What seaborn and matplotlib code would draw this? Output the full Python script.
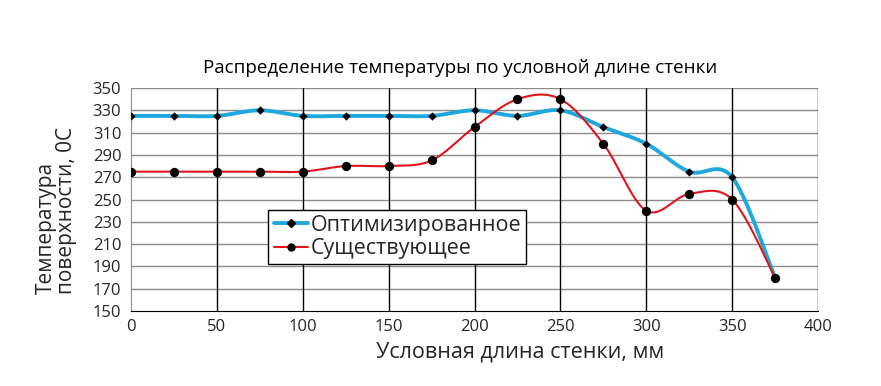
import numpy as np
import pandas as pd
import matplotlib
matplotlib.use("Agg")
import matplotlib.pyplot as plt
import seaborn as sns
from matplotlib.lines import Line2D

# data
length_mm = [0, 25, 50, 75, 100, 125, 150, 175, 200, 225, 250, 275, 300, 325, 350, 375]
optimized = [325, 325, 325, 330, 325, 325, 325, 325, 330, 325, 330, 315, 300, 275, 270, 180]
existing = [275, 275, 275, 275, 275, 280, 280, 285, 315, 340, 340, 300, 240, 255, 250, 180]

x_ticks = [0, 50, 100, 150, 200, 250, 300, 350, 400]
y_ticks = [150, 170, 190, 210, 230, 250, 270, 290, 310, 330, 350]


def smooth(x, y, n=30):
    # Excel-like smoothed line: Bezier through points, Catmull-Rom tangents
    x = np.asarray(x, float)
    y = np.asarray(y, float)
    px, py = [], []
    for i in range(len(x) - 1):
        i0 = max(i - 1, 0)
        i3 = min(i + 2, len(x) - 1)
        c1x = x[i] + (x[i + 1] - x[i0]) / 6
        c1y = y[i] + (y[i + 1] - y[i0]) / 6
        c2x = x[i + 1] - (x[i3] - x[i]) / 6
        c2y = y[i + 1] - (y[i3] - y[i]) / 6
        t = np.linspace(0, 1, n, endpoint=(i == len(x) - 2))
        b0, b1, b2, b3 = (1 - t) ** 3, 3 * t * (1 - t) ** 2, 3 * t ** 2 * (1 - t), t ** 3
        px.extend(b0 * x[i] + b1 * c1x + b2 * c2x + b3 * x[i + 1])
        py.extend(b0 * y[i] + b1 * c1y + b2 * c2y + b3 * y[i + 1])
    return np.array(px), np.array(py)


sns.set_style("white")
plt.rcParams['font.family'] = ['Open Sans', 'DejaVu Sans']

fig = plt.figure(figsize=(8.81, 3.86), dpi=100)
ax = fig.add_axes([0.1487, 0.1943, 0.7798, 0.5777])

blue = "#1ea8de"
red = "#e0141c"

sx, sy = smooth(length_mm, optimized)
sns.lineplot(x=sx, y=sy, ax=ax, color=blue, linewidth=2.8, sort=False, zorder=3)
sx, sy = smooth(length_mm, existing)
sns.lineplot(x=sx, y=sy, ax=ax, color=red, linewidth=1.5, sort=False, zorder=3)

sns.scatterplot(x=length_mm, y=optimized, ax=ax, marker="D", s=18, color="black",
                edgecolor="black", linewidth=0, zorder=4)
sns.scatterplot(x=length_mm, y=existing, ax=ax, marker="o", s=45, color="black",
                edgecolor="black", linewidth=0, zorder=4)

ax.set_xlim(0, 400)
ax.set_ylim(150, 350)
ax.set_xticks(x_ticks)
ax.set_yticks(y_ticks)
ax.tick_params(axis="both", labelsize=12, length=4, width=1, color="black", direction="out", pad=2)
ax.tick_params(axis="y", length=5)

for v in y_ticks[1:]:
    ax.axhline(v, color="#8c8c8c", linewidth=1, zorder=1)
for v in x_ticks[1:]:
    ax.axvline(v, color="black", linewidth=1, zorder=1)

for s in ["top", "right"]:
    ax.spines[s].set_visible(False)
ax.spines["left"].set_color("#8c8c8c")
ax.spines["bottom"].set_color("black")

ax.set_title("Распределение температуры по условной длине стенки", fontsize=13.5,
             color="black", pad=11, x=0.479)
ax.set_xlabel("Условная длина стенки, мм", fontsize=15.5)
ax.xaxis.set_label_coords(0.566, -0.135)
ax.set_ylabel("Температура\nповерхности, 0С", fontsize=15, linespacing=1.0,
              multialignment="left")
ax.yaxis.set_label_coords(-0.078, 0.45)

handles = [
    Line2D([], [], color=blue, linewidth=2.8, marker="D", markersize=4,
           markerfacecolor="black", markeredgecolor="black"),
    Line2D([], [], color=red, linewidth=1.5, marker="o", markersize=5,
           markerfacecolor="black", markeredgecolor="black"),
]
leg = ax.legend(handles, ["Оптимизированное", "Существующее"], loc="upper left",
                bbox_to_anchor=(0.2, 0.455), fontsize=15.5, frameon=True, fancybox=False,
                handlelength=1.6, handletextpad=0.1, borderpad=0.25, labelspacing=0.1,
                borderaxespad=0)
leg.get_frame().set_edgecolor("black")
leg.get_frame().set_linewidth(1)
leg.get_frame().set_alpha(1)
leg.set_zorder(5)

fig.savefig("out.png", dpi=100)
